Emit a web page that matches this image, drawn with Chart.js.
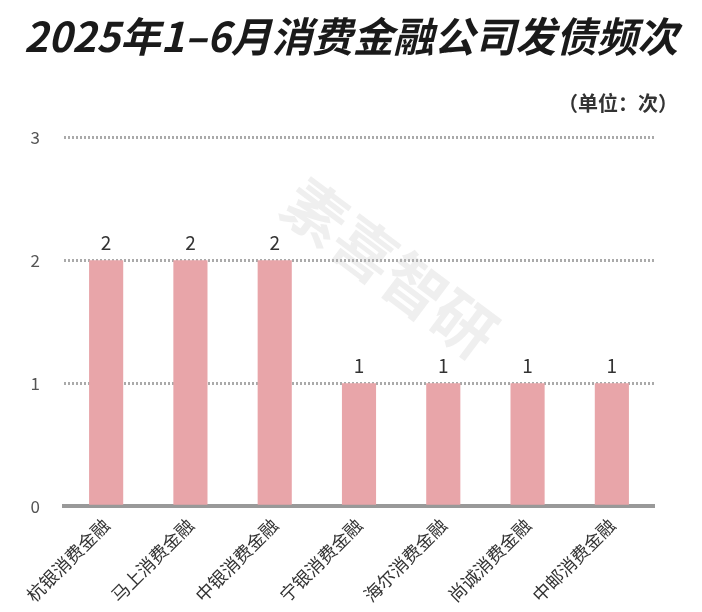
<!DOCTYPE html>
<html>
<head>
<meta charset="utf-8">
<script src="https://cdn.jsdelivr.net/npm/chart.js@4"></script>
<style>
  html, body { margin: 0; padding: 0; background: #fff; }
  #wrap { width: 702px; height: 612px; position: relative; }
</style>
</head>
<body>
<div id="wrap"><canvas id="chart" width="702" height="612"></canvas></div>
<script>
const companies = ["杭银消费金融", "马上消费金融", "中银消费金融", "宁银消费金融", "海尔消费金融", "尚诚消费金融", "中邮消费金融"];
const issueCounts = [2, 2, 2, 1, 1, 1, 1];
const yTicks = [0, 1, 2, 3];

const cjk = "'Noto Sans CJK SC', 'Noto Sans', sans-serif";

// value labels above each bar
const valueLabels = {
    id: "valueLabels",
    afterDatasetsDraw(chart) {
        const ctx = chart.ctx;
        const meta = chart.getDatasetMeta(0);
        ctx.save();
        ctx.font = "19px " + cjk;
        ctx.fillStyle = "#333";
        ctx.textAlign = "center";
        ctx.textBaseline = "bottom";
        meta.data.forEach((bar, i) => {
            ctx.fillText(String(issueCounts[i]), bar.x, bar.y - 8);
        });
        ctx.restore();
    }
};

// faint diagonal watermark
const watermark = {
    id: "watermark",
    afterDraw(chart) {
        const ctx = chart.ctx;
        ctx.save();
        ctx.translate(390, 268);
        ctx.rotate(37 * Math.PI / 180);
        ctx.font = "bold 62px " + cjk;
        ctx.fillStyle = "rgba(190,190,190,0.25)";
        ctx.textAlign = "center";
        ctx.textBaseline = "middle";
        ctx.fillText("素喜智研", 0, 0);
        ctx.restore();
    }
};

new Chart(document.getElementById("chart"), {
    type: "bar",
    data: {
        labels: companies,
        datasets: [{
            data: issueCounts,
            backgroundColor: "#e8a5a9",
            categoryPercentage: 0.81,
            barPercentage: 0.5
        }]
    },
    options: {
        responsive: false,
        animation: false,
        layout: { padding: { left: 24, right: 24, top: 4, bottom: 6 } },
        plugins: {
            legend: { display: false },
            tooltip: { enabled: false },
            title: {
                display: true,
                text: "2025年1–6月消费金融公司发债频次",
                color: "#1a1a1a",
                font: { family: cjk, size: 41, weight: "bold", style: "italic" },
                padding: { top: 8, bottom: 30 }
            },
            subtitle: {
                display: true,
                text: "（单位：次）",
                align: "end",
                color: "#333",
                font: { family: cjk, size: 20, weight: "bold" },
                padding: { top: 0, bottom: 22 }
            }
        },
        scales: {
            x: {
                grid: { display: false },
                border: { display: true, color: "#999", width: 4 },
                ticks: {
                    color: "#333",
                    font: { family: cjk, size: 18 },
                    minRotation: 45,
                    maxRotation: 45,
                    padding: 0
                }
            },
            y: {
                min: 0,
                max: 3,
                afterBuildTicks(axis) {
                    axis.ticks = yTicks.map(v => ({ value: v }));
                },
                afterFit(axis) { axis.width = 40; },
                border: { display: false, dash: [2, 2] },
                grid: {
                    color: (c) => c.tick.value === 0 ? "rgba(0,0,0,0)" : "#aaa",
                    lineWidth: 3,
                    drawTicks: false
                },
                ticks: {
                    color: "#555",
                    font: { family: cjk, size: 17 },
                    padding: 24
                }
            },
            // empty right-hand spacer so the plot stops short of the right edge
            yRight: {
                position: "right",
                display: true,
                grid: { display: false },
                border: { display: false },
                ticks: { display: false },
                afterFit(axis) { axis.width = 24; }
            }
        }
    },
    plugins: [valueLabels, watermark]
});
</script>
</body>
</html>
